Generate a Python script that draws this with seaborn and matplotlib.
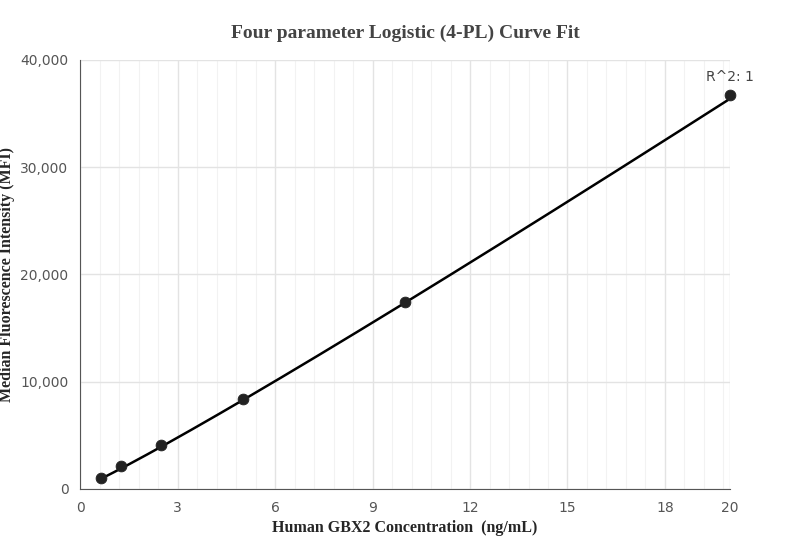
import numpy as np
import matplotlib
matplotlib.use("Agg")
import matplotlib.pyplot as plt
import seaborn as sns
from matplotlib.ticker import FixedLocator, MultipleLocator, FuncFormatter

conc = [0.625, 1.25, 2.5, 5, 10, 20]
mfi = [1000, 2100, 4100, 8400, 17400, 36700]
xticks = [0, 3, 6, 9, 12, 15, 18, 20]
# 4PL fit parameters (estimated)
A, B, C, D = 50.0, 1.08, 1000.0, 2.52e6

sns.set_style("white")
fig, ax = plt.subplots(figsize=(8.11, 5.6), dpi=100)
fig.subplots_adjust(left=0.099, right=0.9, top=0.893, bottom=0.127)

xs = np.linspace(min(conc), max(conc), 300)
ys = D + (A - D) / (1 + (xs / C) ** B)
sns.lineplot(x=xs, y=ys, ax=ax, color="black", linewidth=1.8)
sns.scatterplot(x=conc, y=mfi, ax=ax, color="#222222", s=60, zorder=5,
                edgecolor="#222222", clip_on=False)

ax.set_xlim(0, 20)
ax.set_ylim(0, 40000)
ax.xaxis.set_major_locator(FixedLocator(xticks))
ax.xaxis.set_minor_locator(MultipleLocator(0.6))
ax.yaxis.set_major_locator(MultipleLocator(10000))
ax.yaxis.set_major_formatter(FuncFormatter(lambda v, p: f"{int(v):,}"))
ax.grid(which="major", color="#e3e3e3", linewidth=1)
ax.grid(which="minor", axis="x", color="#f2f2f2", linewidth=0.8)
ax.set_axisbelow(True)
for s in ["top", "right"]:
    ax.spines[s].set_visible(False)
for s in ["left", "bottom"]:
    ax.spines[s].set_color("#555555")
ax.tick_params(axis="both", which="major", length=5, color="#555555", labelcolor="#555555", labelsize=10)
ax.tick_params(which="minor", length=0)

ax.set_title("Four parameter Logistic (4-PL) Curve Fit", fontfamily="Liberation Serif",
             fontweight="bold", fontsize=14, color="#444444", pad=16)
ax.set_xlabel("Human GBX2 Concentration  (ng/mL)", fontfamily="Liberation Serif", fontweight="bold", fontsize=11.5)
ax.set_ylabel("Median Fluorescence Intensity (MFI)", fontfamily="Liberation Serif", fontweight="bold", fontsize=11.5)
ax.annotate("R^2: 1", (conc[-1], mfi[-1]), xytext=(0, 8), textcoords="offset points",
            ha="center", va="bottom", fontsize=10, color="#444444")
fig.savefig("out.png", dpi=100)
